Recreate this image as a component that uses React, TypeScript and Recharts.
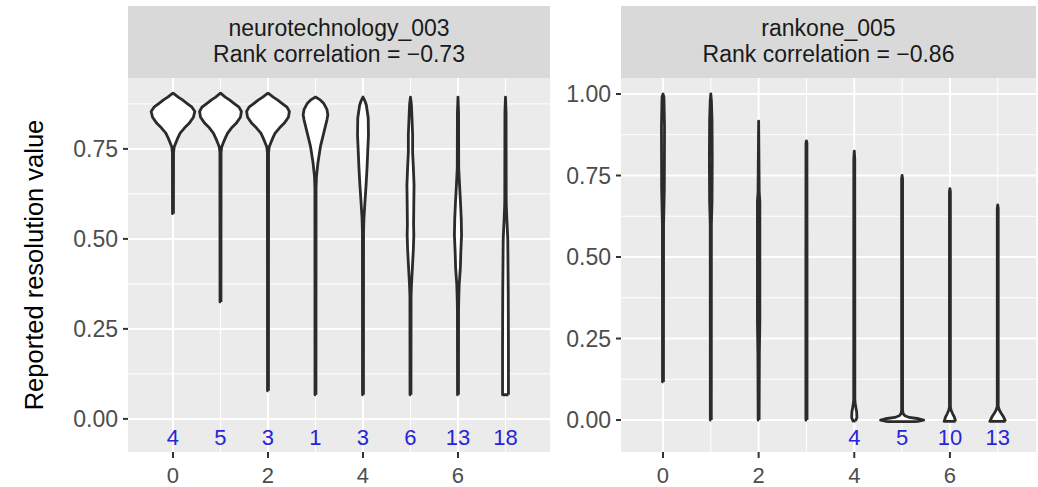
import React from "react";
import {
  ScatterChart,
  Scatter,
  XAxis,
  YAxis,
  ReferenceArea,
  ReferenceLine
} from "recharts";

// each violin: [value, half width in x units], bottom to top
type Profile = [number, number][];

const neuroProfiles: Profile[] = [
  [[0.57, 0.01], [0.74, 0.012], [0.755, 0.025], [0.767, 0.06], [0.78, 0.1], [0.794, 0.15], [0.808, 0.24], [0.821, 0.34], [0.838, 0.43], [0.854, 0.46], [0.866, 0.4], [0.876, 0.3], [0.886, 0.2], [0.894, 0.11], [0.9, 0.05], [0.905, 0]],
  [[0.325, 0.01], [0.74, 0.012], [0.755, 0.025], [0.767, 0.06], [0.78, 0.1], [0.794, 0.15], [0.808, 0.23], [0.821, 0.33], [0.838, 0.42], [0.854, 0.44], [0.866, 0.39], [0.876, 0.29], [0.886, 0.19], [0.894, 0.1], [0.9, 0.045], [0.905, 0]],
  [[0.078, 0.01], [0.74, 0.012], [0.755, 0.025], [0.767, 0.06], [0.78, 0.1], [0.794, 0.15], [0.808, 0.24], [0.821, 0.34], [0.838, 0.43], [0.854, 0.45], [0.866, 0.4], [0.876, 0.3], [0.886, 0.2], [0.894, 0.11], [0.9, 0.05], [0.905, 0]],
  [[0.067, 0.01], [0.64, 0.012], [0.672, 0.02], [0.71, 0.05], [0.757, 0.105], [0.803, 0.19], [0.83, 0.24], [0.845, 0.26], [0.86, 0.24], [0.877, 0.17], [0.887, 0.09], [0.894, 0]],
  [[0.067, 0.01], [0.52, 0.012], [0.557, 0.02], [0.604, 0.042], [0.65, 0.065], [0.697, 0.085], [0.743, 0.1], [0.789, 0.115], [0.836, 0.11], [0.872, 0.07], [0.885, 0.035], [0.894, 0]],
  [[0.067, 0.01], [0.34, 0.012], [0.37, 0.02], [0.42, 0.04], [0.47, 0.06], [0.51, 0.07], [0.54, 0.065], [0.6, 0.07], [0.65, 0.075], [0.7, 0.06], [0.74, 0.045], [0.79, 0.045], [0.84, 0.03], [0.875, 0.018], [0.894, 0]],
  [[0.067, 0.01], [0.3, 0.012], [0.326, 0.015], [0.372, 0.025], [0.42, 0.05], [0.465, 0.06], [0.51, 0.075], [0.557, 0.068], [0.604, 0.052], [0.65, 0.033], [0.697, 0.015], [0.85, 0.012], [0.894, 0]],
  [[0.067, 0.062], [0.2, 0.062], [0.35, 0.058], [0.5, 0.048], [0.557, 0.028], [0.6, 0.015], [0.85, 0.012], [0.894, 0]]
];

const rankoneProfiles: Profile[] = [
  [[0.117, 0.01], [0.6, 0.012], [0.71, 0.028], [0.9, 0.032], [0.99, 0.02], [1.0, 0]],
  [[0, 0.01], [0.6, 0.012], [0.67, 0.025], [0.8, 0.03], [0.92, 0.025], [0.98, 0.012], [1.0, 0]],
  [[0, 0.01], [0.2, 0.015], [0.3, 0.025], [0.67, 0.025], [0.7, 0.012], [0.917, 0]],
  [[0, 0.012], [0.5, 0.012], [0.85, 0.01], [0.856, 0]],
  [[-0.003, 0.025], [0.008, 0.055], [0.025, 0.05], [0.045, 0.025], [0.06, 0.012], [0.8, 0.01], [0.825, 0]],
  [[-0.005, 0.3], [0, 0.45], [0.004, 0.35], [0.008, 0.15], [0.013, 0.06], [0.02, 0.02], [0.03, 0.01], [0.74, 0.01], [0.75, 0]],
  [[-0.004, 0.12], [0.01, 0.09], [0.02, 0.055], [0.03, 0.025], [0.04, 0.01], [0.7, 0.01], [0.71, 0]],
  [[-0.004, 0.165], [0.01, 0.12], [0.02, 0.075], [0.03, 0.035], [0.042, 0.01], [0.65, 0.01], [0.66, 0]]
];

const neuroCounts = [4, 5, 3, 1, 3, 6, 13, 18];
const neuroCountX = [0, 1, 2, 3, 4, 5, 6, 7];
const rankoneCounts = [4, 5, 10, 13];
const rankoneCountX = [4, 5, 6, 7];

const xTicks = [0, 2, 4, 6];
const xMinor = [1, 3, 5, 7];
const neuroYTicks = [0, 0.25, 0.5, 0.75];
const rankoneYTicks = [0, 0.25, 0.5, 0.75, 1];
const yMinor = [0.125, 0.375, 0.625, 0.875];

const FONT = '"Liberation Sans", Arial, Helvetica, sans-serif';
const LABEL_Y = -0.052;

function outline(center: number, profile: Profile) {
  const right = profile.map(([v, w]) => ({ x: center + w, y: v }));
  const left = [...profile].reverse().map(([v, w]) => ({ x: center - w, y: v }));
  return [...right, ...left, right[0]];
}

const noShape = () => <g />;

type PanelProps = {
  left: number;
  width: number;
  margin: { top: number; right: number; bottom: number; left: number };
  xDomain: [number, number];
  yDomain: [number, number];
  yTicks: number[];
  profiles: Profile[];
  countX: number[];
  counts: number[];
  title: string;
  corr: string;
  stripLeft: number;
  stripWidth: number;
};

function Panel(p: PanelProps) {
  const countData = p.countX.map((x, i) => ({ x, y: LABEL_Y, n: p.counts[i] }));
  return (
    <>
      <div
        style={{
          position: "absolute",
          left: p.stripLeft,
          top: 6,
          width: p.stripWidth,
          height: 72,
          background: "#d9d9d9"
        }}
      />
      <div
        style={{
          position: "absolute",
          left: p.stripLeft,
          top: 15,
          width: p.stripWidth,
          textAlign: "center",
          fontFamily: FONT,
          fontSize: 23,
          lineHeight: "26px",
          color: "#1a1a1a"
        }}
      >
        <div>{p.title}</div>
        <div>Rank correlation = −{p.corr}</div>
      </div>
      <div style={{ position: "absolute", left: p.left, top: 0 }}>
        <ScatterChart width={p.width} height={487} margin={p.margin}>
          <XAxis
            type="number"
            dataKey="x"
            domain={p.xDomain}
            allowDataOverflow
            ticks={xTicks}
            interval={0}
            height={35}
            axisLine={false}
            tickSize={6}
            tickMargin={9}
            tickLine={{ stroke: "#333", strokeWidth: 2 }}
            tick={{ fill: "#4d4d4d", fontSize: 22, fontFamily: FONT }}
          />
          <YAxis
            type="number"
            dataKey="y"
            domain={p.yDomain}
            allowDataOverflow
            ticks={p.yTicks}
            interval={0}
            width={60}
            axisLine={false}
            tickSize={5}
            tickMargin={5}
            tickFormatter={(v: number) => v.toFixed(2)}
            tickLine={{ stroke: "#333", strokeWidth: 2 }}
            tick={{ fill: "#4d4d4d", fontSize: 23, fontFamily: FONT }}
          />
          <ReferenceArea
            x1={p.xDomain[0]}
            x2={p.xDomain[1]}
            y1={p.yDomain[0]}
            y2={p.yDomain[1]}
            fill="#ebebeb"
            fillOpacity={1}
            stroke="none"
          />
          {yMinor.map((v) => (
            <ReferenceLine key={"ym" + v} y={v} stroke="#fff" strokeWidth={1} />
          ))}
          {xMinor.map((v) => (
            <ReferenceLine key={"xm" + v} x={v} stroke="#fff" strokeWidth={1} />
          ))}
          {p.yTicks.map((v) => (
            <ReferenceLine key={"y" + v} y={v} stroke="#fff" strokeWidth={2} />
          ))}
          {xTicks.map((v) => (
            <ReferenceLine key={"x" + v} x={v} stroke="#fff" strokeWidth={2} />
          ))}
          {p.profiles.map((prof, i) => (
            <Scatter
              key={"v" + i}
              data={outline(i, prof)}
              shape={noShape}
              line={{ stroke: "#2b2b2b", strokeWidth: 2.8, fill: "#fff", strokeLinejoin: "round" }}
              lineType="joint"
              isAnimationActive={false}
            />
          ))}
          <Scatter
            data={countData}
            isAnimationActive={false}
            shape={(s: any) => (
              <text
                x={s.cx}
                y={s.cy}
                textAnchor="middle"
                dominantBaseline="central"
                fill="#2626d9"
                fontSize={22}
                fontFamily={FONT}
              >
                {s.payload.n}
              </text>
            )}
          />
        </ScatterChart>
      </div>
    </>
  );
}

export default function App() {
  return (
    <div
      style={{
        position: "absolute",
        left: 0,
        top: 0,
        width: 1038,
        height: 487,
        background: "#fff",
        overflow: "hidden"
      }}
    >
      <Panel
        left={0}
        width={560}
        margin={{ top: 78, right: 10, bottom: 0, left: 68 }}
        xDomain={[-0.947, 7.937]}
        yDomain={[-0.092, 0.947]}
        yTicks={neuroYTicks}
        profiles={neuroProfiles}
        countX={neuroCountX}
        counts={neuroCounts}
        title="neurotechnology_003"
        corr="0.73"
        stripLeft={128}
        stripWidth={422}
      />
      <Panel
        left={560}
        width={478}
        margin={{ top: 78, right: 2, bottom: 0, left: 1 }}
        xDomain={[-0.878, 7.8]}
        yDomain={[-0.098, 1.049]}
        yTicks={rankoneYTicks}
        profiles={rankoneProfiles}
        countX={rankoneCountX}
        counts={rankoneCounts}
        title="rankone_005"
        corr="0.86"
        stripLeft={621}
        stripWidth={415}
      />
      <div
        style={{
          position: "absolute",
          left: 34,
          top: 265,
          transform: "translate(-50%, -50%) rotate(-90deg)",
          whiteSpace: "nowrap",
          fontFamily: FONT,
          fontSize: 25.5,
          color: "#000"
        }}
      >
        Reported resolution value
      </div>
    </div>
  );
}
